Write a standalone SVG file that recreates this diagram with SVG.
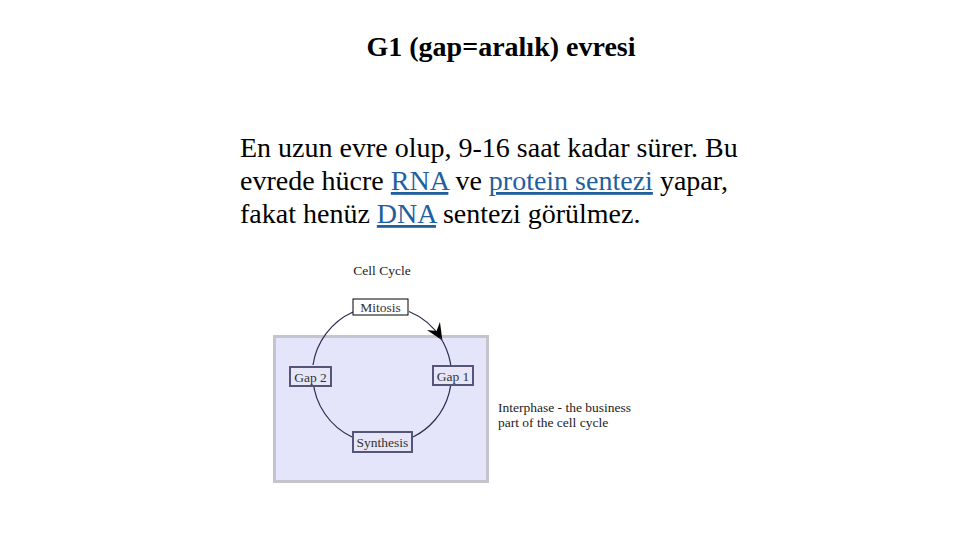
<svg xmlns="http://www.w3.org/2000/svg" width="960" height="540" viewBox="0 0 960 540">
<style>
.ser{font-family:"Liberation Serif","Times New Roman",serif;}
.title{font-size:28px;font-weight:bold;fill:#000;}
.body{font-size:28px;fill:#000;}
.link{fill:#1f5f9f;text-decoration:underline;}
.small{font-size:13.5px;fill:#222;}
.lbl{font-size:13.5px;fill:#333;text-anchor:middle;}
.box{fill:#e6e6f8;stroke:#55557a;stroke-width:2;}
.arc{fill:none;stroke:#2a2a50;stroke-width:1.2;}
</style>
<defs>
<marker id="ah" viewBox="0 0 10 10" refX="9" refY="5" markerWidth="17" markerHeight="17" orient="auto" markerUnits="userSpaceOnUse">
<path d="M0,0.5 L10,5 L0,9.5 L3.5,5 Z" fill="#000"/>
</marker>
</defs>
<rect width="960" height="540" fill="#fff"/>
<text class="ser title" x="501" y="56" text-anchor="middle">G1 (gap=aralık) evresi</text>
<text class="ser body" x="240" y="157">En uzun evre olup, 9-16 saat kadar sürer. Bu</text>
<text class="ser body" x="240" y="190">evrede hücre <tspan class="link">RNA</tspan> ve <tspan class="link">protein sentezi</tspan> yapar,</text>
<text class="ser body" x="240" y="223">fakat henüz <tspan class="link">DNA</tspan> sentezi görülmez.</text>
<text class="ser small" x="382" y="275" text-anchor="middle">Cell Cycle</text>
<rect x="274.5" y="336.5" width="213" height="145" fill="#e4e4fa" stroke="#c4c4cc" stroke-width="3"/>
<g id="connectors">
<path class="arc" d="M409,311.5 A69,69 0 0,1 441.5,339" stroke="#000" stroke-width="1" marker-end="url(#ah)"/>
<path class="arc" d="M440,337 A69,69 0 0,1 413,437"/>
<path class="arc" d="M352,437 A69,69 0 0,1 313,380"/>
<path class="arc" d="M313,365 A69,69 0 0,1 353,312" stroke="#000" stroke-width="1"/>
</g>
<g id="mitosis">
<rect x="353" y="299" width="55" height="16" fill="#fff" stroke="#000" stroke-width="1"/>
<text class="ser lbl" x="380.5" y="311.5">Mitosis</text>
</g>
<g id="gap2">
<rect class="box" x="290" y="367" width="41" height="19"/>
<text class="ser lbl" x="310.5" y="381.5">Gap 2</text>
</g>
<g id="gap1">
<rect class="box" x="433" y="366" width="40" height="19"/>
<text class="ser lbl" x="453" y="380.5">Gap 1</text>
</g>
<g id="synthesis">
<rect class="box" x="353" y="432" width="59" height="20"/>
<text class="ser lbl" x="382.5" y="446.5">Synthesis</text>
</g>
<text class="ser small" x="498" y="412">Interphase - the business</text>
<text class="ser small" x="498" y="427">part of the cell cycle</text>
</svg>
